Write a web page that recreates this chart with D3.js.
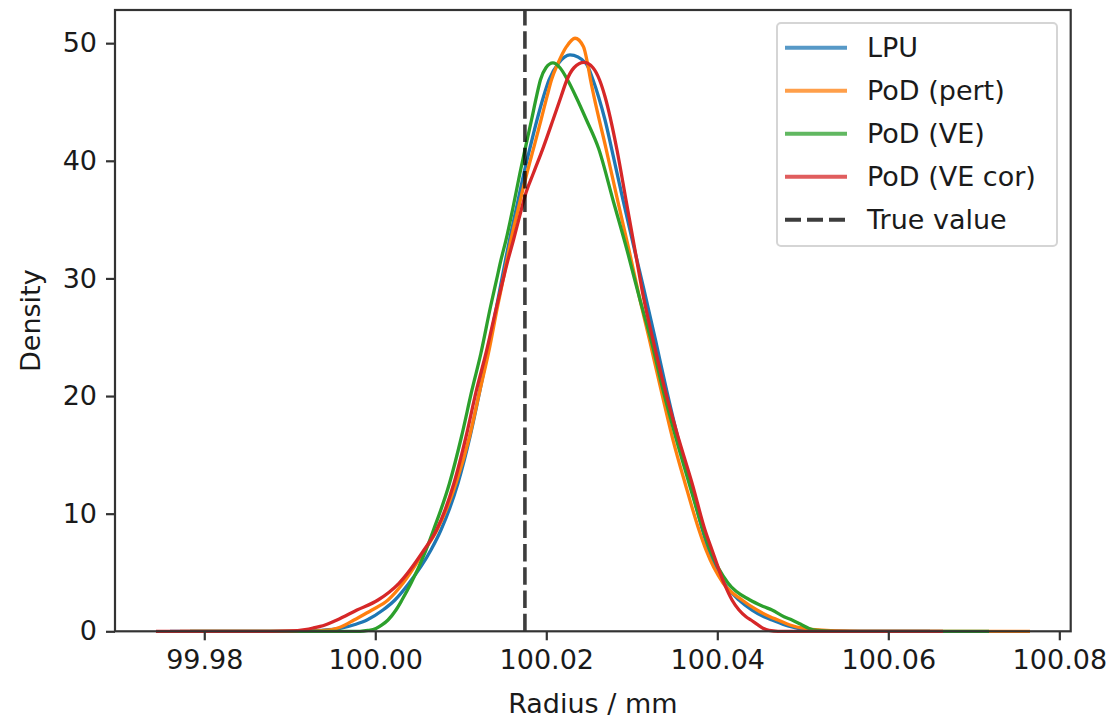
<!DOCTYPE html>
<html>
<head>
<meta charset="utf-8">
<script src="https://cdn.jsdelivr.net/npm/d3@7"></script>
<style>
  html, body { margin: 0; padding: 0; background: #fff; }
  svg { display: block; font-family: "DejaVu Sans", sans-serif; }
</style>
</head>
<body>
<svg id="chart" width="1108" height="721"></svg>
<script>
// Kernel density estimates of the fitted radius (mm) for each method: [radius, density]
const lpu = [[99.97599,0],[99.99119,0],[99.99353,0.07],[99.99587,0.24],[99.99763,0.58],[99.99903,0.96],[100.0009,1.81],[100.0023,2.66],[100.00394,4.08],[100.00651,6.91],[100.00768,8.61],[100.00967,12.58],[100.01108,16.54],[100.01225,20.52],[100.01312,23.66],[100.01418,27.57],[100.01523,31.57],[100.0157,33.27],[100.01646,35.82],[100.01739,38.96],[100.01809,41.09],[100.01891,43.47],[100.01967,45.45],[100.02032,46.89],[100.02143,48.29],[100.02277,49.0],[100.02464,48.29],[100.02546,46.89],[100.02611,45.45],[100.02687,43.47],[100.02763,41.06],[100.02897,36.67],[100.03032,32.42],[100.03143,29.03],[100.03277,24.77],[100.03406,20.52],[100.03546,16.26],[100.03681,12.61],[100.03827,8.61],[100.03897,6.91],[100.04078,4.11],[100.04254,2.66],[100.04406,1.81],[100.04546,1.24],[100.0464,0.96],[100.04827,0.45],[100.05026,0.15],[100.05318,0.03],[100.05552,0],[100.06488,0]];

const podPert = [[99.97716,0],[99.99236,0],[99.99412,0.07],[99.99552,0.26],[99.99646,0.54],[99.99751,0.96],[99.99961,1.81],[100.00149,2.66],[100.00324,4.08],[100.00581,6.91],[100.00722,8.61],[100.00944,12.58],[100.01102,16.54],[100.01225,20.52],[100.01324,23.66],[100.01429,27.57],[100.01494,29.87],[100.0154,31.57],[100.01587,33.27],[100.01669,35.82],[100.01774,38.96],[100.01862,41.35],[100.01938,43.47],[100.02008,45.45],[100.02061,46.89],[100.02137,48.29],[100.02236,49.7],[100.02336,50.42],[100.02435,49.7],[100.02482,48.29],[100.02517,46.89],[100.02558,45.45],[100.02698,41.06],[100.02833,36.67],[100.02967,32.42],[100.03096,28.17],[100.03207,24.77],[100.03342,20.52],[100.03482,16.26],[100.03622,12.61],[100.03786,8.61],[100.03868,6.91],[100.04067,4.11],[100.04289,2.66],[100.04464,1.81],[100.04616,1.24],[100.0471,0.96],[100.0485,0.54],[100.05026,0.24],[100.05377,0.03],[100.05669,0],[100.07657,0]];

const podVE = [[99.97833,0],[99.99821,0],[99.99915,0.07],[100.00008,0.24],[100.00078,0.54],[100.00149,0.96],[100.00242,1.81],[100.00312,2.66],[100.00418,4.08],[100.00593,6.91],[100.00681,8.61],[100.00868,12.58],[100.01008,16.54],[100.01131,20.52],[100.01236,23.66],[100.01347,27.57],[100.01418,29.87],[100.0147,31.57],[100.01529,33.27],[100.01605,35.82],[100.01692,38.96],[100.01763,41.35],[100.01827,43.47],[100.01885,45.45],[100.01932,46.89],[100.01996,47.91],[100.02078,48.32],[100.0216,47.91],[100.02248,46.89],[100.02347,45.45],[100.0247,43.47],[100.02611,41.06],[100.0278,36.67],[100.02944,32.42],[100.03096,28.17],[100.03225,24.77],[100.03365,20.52],[100.03523,16.26],[100.03669,12.61],[100.03833,8.61],[100.03915,6.91],[100.04125,4.11],[100.04382,2.66],[100.04546,2.09],[100.0464,1.81],[100.0478,1.24],[100.04874,0.96],[100.04991,0.54],[100.05073,0.24],[100.05166,0.07],[100.05377,0],[100.07178,0]];

const podVECor = [[99.97435,0],[99.98768,0],[99.99002,0.03],[99.99178,0.15],[99.99271,0.28],[99.99412,0.54],[99.99552,0.96],[99.99786,1.81],[100.00032,2.66],[100.00277,4.08],[100.0057,6.91],[100.00716,8.61],[100.0092,12.58],[100.01061,16.54],[100.01184,20.52],[100.01295,23.66],[100.01418,27.57],[100.01494,29.87],[100.01552,31.57],[100.01616,33.27],[100.01716,36.07],[100.01751,37.01],[100.0185,38.96],[100.01961,41.06],[100.02078,43.47],[100.02172,45.45],[100.02242,46.89],[100.02324,47.91],[100.02441,48.36],[100.02546,47.91],[100.02622,46.89],[100.02687,45.45],[100.02827,40.92],[100.02932,36.67],[100.03037,32.42],[100.03143,28.17],[100.03248,24.77],[100.03388,20.52],[100.03552,16.26],[100.03704,12.61],[100.03856,8.61],[100.03938,6.91],[100.04078,4.11],[100.04172,2.66],[100.04254,1.81],[100.04336,1.24],[100.04394,0.96],[100.04476,0.54],[100.04535,0.26],[100.04605,0.07],[100.0471,0],[100.0664,0]];

const trueValue = 100.0175;

const seriesNames = ["LPU", "PoD (pert)", "PoD (VE)", "PoD (VE cor)"];
const seriesColors = ["#1f77b4", "#ff7f0e", "#2ca02c", "#d62728"];
const legendColors = ["#5799c7", "#ff9f4a", "#61b861", "#e05d5e"];
const xTicks = [99.98, 100.00, 100.02, 100.04, 100.06, 100.08];
const yTicks = [0, 10, 20, 30, 40, 50];
const xLimits = [99.96956, 100.08133];
const yLimits = [0, 52.82];

(function draw() {
  const svg = d3.select("#chart");
  const plotLeft = 115, plotRight = 1070.7, plotTop = 10, plotBottom = 631.3;
  const fontSize = "27px";

  const x = d3.scaleLinear().domain(xLimits).range([plotLeft, plotRight]);
  const y = d3.scaleLinear().domain(yLimits).range([plotBottom, plotTop]);

  svg.append("rect").attr("width", 1108).attr("height", 721).attr("fill", "#fff");

  svg.append("defs").append("clipPath").attr("id", "plot-area")
    .append("rect").attr("x", plotLeft).attr("y", plotTop - 2)
    .attr("width", plotRight - plotLeft).attr("height", plotBottom - plotTop + 4);

  const plot = svg.append("g").attr("clip-path", "url(#plot-area)");

  const line = d3.line()
    .x(d => x(d[0]))
    .y(d => y(d[1]))
    .curve(d3.curveMonotoneX);

  [lpu, podPert, podVE, podVECor].forEach((data, i) => {
    plot.append("path")
      .datum(data)
      .attr("d", line)
      .attr("fill", "none")
      .attr("stroke", seriesColors[i])
      .attr("stroke-width", 3.3)
      .attr("stroke-linejoin", "round")
      .attr("stroke-linecap", "butt");
  });

  // reference line for the nominal radius, dashed from the bottom up
  plot.append("line")
    .attr("x1", x(trueValue)).attr("x2", x(trueValue))
    .attr("y1", y(0)).attr("y2", y(yLimits[1]))
    .attr("stroke", "#000")
    .attr("stroke-opacity", 0.76)
    .attr("stroke-width", 3.6)
    .attr("stroke-dasharray", "17.5,5.8");

  // axes
  const xAxis = d3.axisBottom(x).tickValues(xTicks).tickFormat(d3.format(".2f"))
    .tickSize(9).tickPadding(9);
  const yAxis = d3.axisLeft(y).tickValues(yTicks).tickFormat(d3.format("d"))
    .tickSize(9).tickPadding(9);

  const gx = svg.append("g").attr("transform", `translate(0,${plotBottom})`).call(xAxis);
  const gy = svg.append("g").attr("transform", `translate(${plotLeft},0)`).call(yAxis);

  [gx, gy].forEach(g => {
    g.select(".domain").remove();
    g.selectAll(".tick line").attr("stroke", "#333").attr("stroke-width", 2.2);
    g.selectAll(".tick text")
      .attr("fill", "#1a1a1a")
      .style("font-family", "'DejaVu Sans', sans-serif")
      .style("font-size", fontSize);
  });
  gx.selectAll(".tick text").attr("dy", null).attr("y", 38);

  // frame
  svg.append("rect")
    .attr("x", plotLeft).attr("y", plotTop)
    .attr("width", plotRight - plotLeft).attr("height", plotBottom - plotTop)
    .attr("fill", "none").attr("stroke", "#333").attr("stroke-width", 2.2);

  // axis titles
  svg.append("text")
    .attr("x", (plotLeft + plotRight) / 2).attr("y", 713)
    .attr("text-anchor", "middle")
    .attr("fill", "#1a1a1a")
    .style("font-size", fontSize)
    .text("Radius / mm");

  svg.append("text")
    .attr("transform", `translate(40,${(plotTop + plotBottom) / 2}) rotate(-90)`)
    .attr("text-anchor", "middle")
    .attr("fill", "#1a1a1a")
    .style("font-size", fontSize)
    .text("Density");

  // legend
  const legend = svg.append("g");
  legend.append("rect")
    .attr("x", 777).attr("y", 23).attr("width", 280).attr("height", 223)
    .attr("rx", 4).attr("ry", 4)
    .attr("fill", "#fff").attr("fill-opacity", 0.8)
    .attr("stroke", "#d5d5d5").attr("stroke-width", 2);

  const legendRows = seriesNames.map((name, i) => ({ name, color: legendColors[i], dash: null }))
    .concat([{ name: "True value", color: "#3d3d3d", dash: "16,6" }]);
  const rowY = d3.scalePoint().domain(d3.range(legendRows.length)).range([47.7, 219.7]);

  legendRows.forEach((row, i) => {
    const yy = rowY(i);
    legend.append("line")
      .attr("x1", 785).attr("x2", 847).attr("y1", yy).attr("y2", yy)
      .attr("stroke", row.color).attr("stroke-width", 4)
      .attr("stroke-dasharray", row.dash);
    legend.append("text")
      .attr("x", 867).attr("y", yy).attr("dy", "0.36em")
      .attr("fill", "#1a1a1a")
      .style("font-size", fontSize)
      .text(row.name);
  });
})();
</script>
</body>
</html>
